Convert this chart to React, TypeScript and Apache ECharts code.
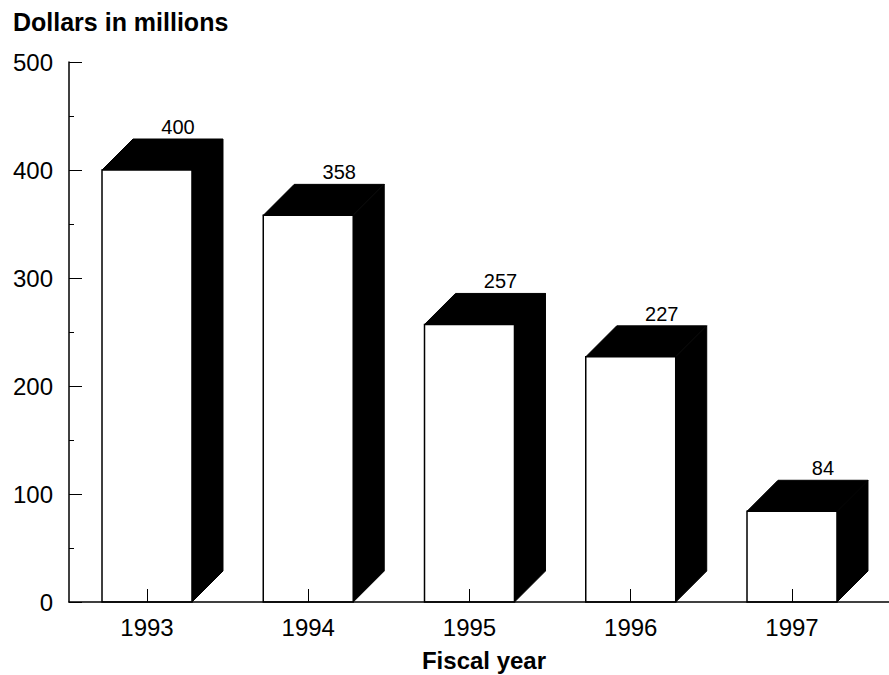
import React, { useEffect, useRef } from "react";
import * as echarts from "echarts";

const years: string[] = ["1993", "1994", "1995", "1996", "1997"];
const dollars: number[] = [400, 358, 257, 227, 84];
const yTicks: number[] = [0, 100, 200, 300, 400, 500];

const FONT = '"Liberation Sans", Arial, Helvetica, sans-serif';
const DEPTH = 31; // extrusion of each block, px
const BAR_W = 0.558; // front face width in category units

export default function App() {
  const ref = useRef<HTMLDivElement>(null);

  useEffect(() => {
    if (!ref.current) return;
    const chart = echarts.init(ref.current, null, { renderer: "svg" });

    const data = dollars.map((v, i) => [i, v]);

    chart.setOption({
      animation: false,
      backgroundColor: "#ffffff",
      grid: { left: 69, right: 0, top: 62, bottom: 73, containLabel: false },
      xAxis: {
        type: "value",
        min: -0.4837,
        max: 4.6016,
        z: 5,
        splitLine: { show: false },
        axisLine: { show: true, onZero: false, lineStyle: { color: "#000", width: 1.5 } },
        axisTick: {
          show: true,
          inside: true,
          length: 13,
          customValues: [0, 1, 2, 3, 4],
          lineStyle: { color: "#000", width: 1 },
        },
        axisLabel: {
          customValues: [0, 1, 2, 3, 4],
          formatter: (v: number) => years[Math.round(v)] ?? "",
          color: "#000",
          fontFamily: FONT,
          fontSize: 24,
          margin: 13,
        },
      },
      yAxis: {
        type: "value",
        min: 0,
        max: 500,
        interval: 100,
        splitLine: { show: false },
        axisLine: { show: true, onZero: false, lineStyle: { color: "#000", width: 1.5 } },
        axisTick: { show: true, inside: true, length: 13, lineStyle: { color: "#000", width: 1 } },
        minorTick: { show: true, splitNumber: 2, length: 5, lineStyle: { color: "#000", width: 1 } },
        axisLabel: {
          color: "#000",
          fontFamily: FONT,
          fontSize: 24,
          margin: 16,
          formatter: (v: number) => (yTicks.includes(v) ? String(v) : ""),
        },
      },
      series: [
        {
          type: "custom",
          data,
          clip: false,
          renderItem: (params: any, api: any) => {
            const idx = api.value(0);
            const val = api.value(1);
            const topPt = api.coord([idx, val]);
            const basePt = api.coord([idx, 0]);
            const w = api.size([BAR_W, 0])[0];
            const L = topPt[0] - w / 2;
            const R = topPt[0] + w / 2;
            const top = topPt[1];
            const base = basePt[1];
            const d = DEPTH;
            return {
              type: "group",
              children: [
                {
                  type: "polygon",
                  shape: {
                    points: [
                      [R, base],
                      [R, top],
                      [R + d, top - d],
                      [R + d, base - d],
                    ],
                  },
                  style: { fill: "#000", stroke: "#000", lineWidth: 1 },
                },
                {
                  type: "polygon",
                  shape: {
                    points: [
                      [L, top],
                      [L + d, top - d],
                      [R + d, top - d],
                      [R, top],
                    ],
                  },
                  style: { fill: "#000", stroke: "#000", lineWidth: 1 },
                },
                {
                  type: "rect",
                  shape: { x: L, y: top, width: w, height: base - top },
                  style: { fill: "#fff", stroke: "#000", lineWidth: 1.5 },
                },
                {
                  type: "text",
                  style: {
                    text: String(val),
                    x: topPt[0] + d,
                    y: top - d - 2,
                    align: "center",
                    verticalAlign: "bottom",
                    fill: "#000",
                    font: `20px ${FONT}`,
                  },
                },
              ],
            };
          },
        },
      ],
      graphic: [
        {
          type: "text",
          x: 13,
          y: 22,
          style: {
            text: "Dollars in millions",
            fill: "#000",
            align: "left",
            verticalAlign: "middle",
            font: `bold 25px ${FONT}`,
          },
        },
        {
          type: "text",
          x: 484,
          y: 660,
          style: {
            text: "Fiscal year",
            fill: "#000",
            align: "center",
            verticalAlign: "middle",
            font: `bold 24px ${FONT}`,
          },
        },
      ],
    });

    return () => chart.dispose();
  }, []);

  return (
    <div
      ref={ref}
      style={{ position: "fixed", left: 0, top: 0, width: 889, height: 675, background: "#fff" }}
    />
  );
}
